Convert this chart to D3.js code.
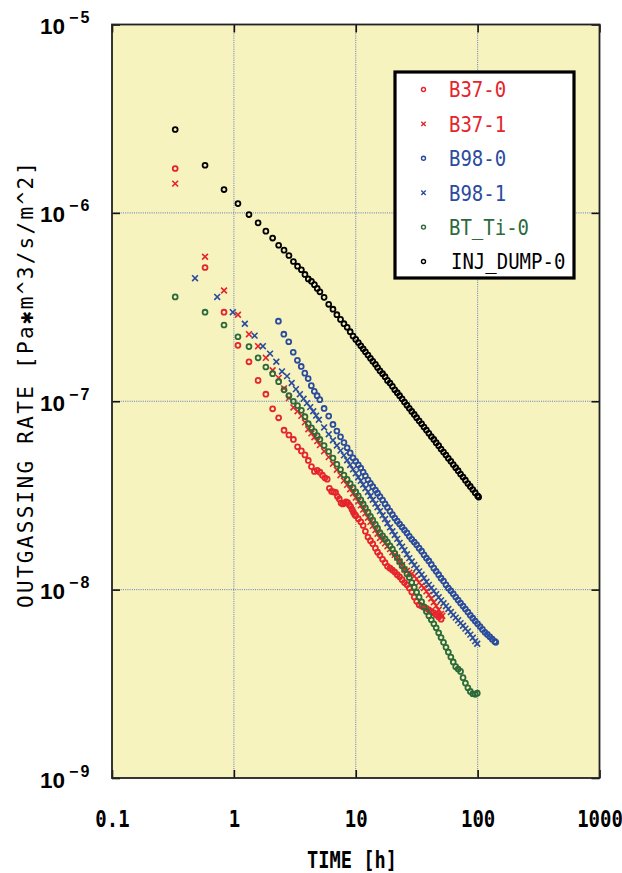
<!DOCTYPE html>
<meta charset="utf-8">
<style>
body { margin: 0; background: #fff; }
</style>
<svg width="622" height="873"></svg>
<script src="https://d3js.org/d3.v7.min.js"></script>
<script>
// ---- data: [hours, outgassing rate Pa*m^3/s/m^2] ----
var b37_0 = [[0.33,1.72e-6],[0.58,5.13e-7],[0.83,2.97e-7],[1.08,1.98e-7],[1.33,1.62e-7],[1.58,1.29e-7],[1.83,1.09e-7],[2.08,9.12e-8],[2.33,8.17e-8],[2.58,7.02e-8],[2.83,6.62e-8],[3.08,6.27e-8],[3.33,5.73e-8],[3.58,5.45e-8],[3.83,5.19e-8],[4.08,4.85e-8],[4.33,4.50e-8],[4.58,4.24e-8],[4.83,4.30e-8],[5.08,4.20e-8],[5.33,4.05e-8],[5.58,3.92e-8],[5.83,3.86e-8],[6.08,3.45e-8],[6.33,3.32e-8],[6.58,3.30e-8],[6.83,3.28e-8],[7.08,3.12e-8],[7.33,3.03e-8],[7.58,2.88e-8],[7.83,2.85e-8],[8.08,2.88e-8],[8.33,2.92e-8],[8.58,2.90e-8],[8.83,2.82e-8],[9.08,2.76e-8],[9.33,2.66e-8],[9.58,2.57e-8],[9.83,2.50e-8],
  [10,2.47e-8],[10.5,2.38e-8],[11,2.29e-8],[11.5,2.19e-8],[12,2.04e-8],[12.6,1.90e-8],[13.2,1.82e-8],[13.8,1.75e-8],[14.5,1.66e-8],[15.1,1.58e-8],[15.8,1.52e-8],[16.6,1.45e-8],[17.4,1.39e-8],[18.2,1.33e-8],[19.1,1.30e-8],[20,1.27e-8],[20.9,1.24e-8],[21.9,1.20e-8],[22.9,1.17e-8],[24,1.13e-8],[25.1,1.09e-8],[26.3,1.06e-8],[27.5,1.02e-8],[28.8,9.71e-9],[30.2,9.14e-9],[31.6,8.67e-9],[33.1,8.30e-9],[34.7,8.18e-9],[36.3,8.07e-9],[38,7.96e-9],[39.8,7.82e-9],[41.7,7.67e-9],[43.7,7.53e-9],[45.7,7.35e-9],[47.9,7.16e-9],[50.1,6.97e-9]];

var b37_1 = [[0.33,1.43e-6],[0.58,5.85e-7],[0.83,3.87e-7],[1.08,2.88e-7],[1.33,2.27e-7],[1.58,1.96e-7],[1.83,1.70e-7],[2.08,1.46e-7],[2.33,1.33e-7],[2.58,1.17e-7],[2.83,1.04e-7],[3.08,9.27e-8],[3.33,8.85e-8],[3.58,8.36e-8],[3.83,7.73e-8],[4.08,7.10e-8],[4.33,6.75e-8],[4.58,6.44e-8],[4.83,6.14e-8],[5.08,5.85e-8],[5.5,5.43e-8],[6,5.05e-8],[6.5,4.66e-8],[7,4.33e-8],[7.5,4.05e-8],[8,3.79e-8],[8.5,3.60e-8],[9,3.41e-8],[9.5,3.24e-8],
  [10,3.08e-8],[10.5,2.94e-8],[11,2.80e-8],[11.5,2.66e-8],[12,2.54e-8],[12.6,2.41e-8],[13.2,2.29e-8],[13.8,2.18e-8],[14.5,2.07e-8],[15.1,1.98e-8],[15.8,1.88e-8],[16.6,1.82e-8],[17.4,1.76e-8],[18.2,1.70e-8],[19.1,1.64e-8],[20,1.58e-8],[20.9,1.53e-8],[21.9,1.48e-8],[22.9,1.41e-8],[24,1.35e-8],[25.1,1.28e-8],[26.3,1.26e-8],[27.5,1.23e-8],[28.8,1.21e-8],[30.2,1.18e-8],[31.6,1.14e-8],[33.1,1.09e-8],[34.7,1.05e-8],[36.3,1.02e-8],[38,9.79e-9],[39.8,9.38e-9],[41.7,8.97e-9],[43.7,8.57e-9],[45.7,8.20e-9],[47.9,7.82e-9],[50.1,7.43e-9],[51.3,7.26e-9]];

var b98_0 = [[2.32,2.66e-7],[2.57,2.27e-7],[2.82,2.07e-7],[3.07,1.82e-7],[3.32,1.65e-7],[3.57,1.53e-7],[3.82,1.41e-7],[4.07,1.32e-7],[4.32,1.21e-7],[4.57,1.13e-7],[4.82,1.07e-7],[5.07,1.02e-7],[5.5,9.16e-8],[6,8.34e-8],[6.5,7.53e-8],[7,6.95e-8],[7.5,6.47e-8],[8,6.04e-8],[8.5,5.66e-8],[9,5.32e-8],[9.5,5.01e-8],
  [10,4.80e-8],[10.5,4.60e-8],[11,4.42e-8],[11.5,4.21e-8],[12,4.02e-8],[12.6,3.83e-8],[13.2,3.67e-8],[13.8,3.52e-8],[14.5,3.38e-8],[15.1,3.25e-8],[15.8,3.12e-8],[16.6,2.99e-8],[17.4,2.85e-8],[18.2,2.73e-8],[19.1,2.61e-8],[20,2.50e-8],[20.9,2.40e-8],[21.9,2.31e-8],[22.9,2.23e-8],[24,2.15e-8],[25.1,2.07e-8],[26.3,2.00e-8],[27.5,1.92e-8],[28.8,1.85e-8],[30.2,1.79e-8],[31.6,1.73e-8],[33.1,1.66e-8],[34.7,1.60e-8],[36.3,1.53e-8],[38,1.47e-8],[39.8,1.42e-8],[41.7,1.36e-8],[43.7,1.30e-8],[45.7,1.25e-8],[47.9,1.20e-8],[50.1,1.15e-8],[52.5,1.11e-8],[55,1.06e-8],[57.5,1.02e-8],[60.3,9.86e-9],[63.1,9.51e-9],[66.1,9.14e-9],[69.2,8.81e-9],[72.4,8.49e-9],[75.9,8.18e-9],[79.4,7.89e-9],[83.2,7.60e-9],[87.1,7.31e-9],[91.2,7.05e-9],[95.5,6.81e-9],[100,6.58e-9],[104.7,6.37e-9],[109.6,6.15e-9],[114.8,5.94e-9],[120.2,5.78e-9],[125.9,5.62e-9],[131.8,5.46e-9],[138,5.31e-9],[141,5.25e-9]];

var b98_1 = [[0.48,4.50e-7],[0.73,3.58e-7],[0.98,2.97e-7],[1.23,2.58e-7],[1.48,2.23e-7],[1.73,1.96e-7],[1.98,1.79e-7],[2.23,1.62e-7],[2.48,1.44e-7],[2.73,1.36e-7],[2.98,1.25e-7],[3.23,1.16e-7],[3.48,1.09e-7],[3.73,1.03e-7],[3.98,9.77e-8],[4.23,9.31e-8],[4.48,8.85e-8],[4.73,8.39e-8],[4.98,7.98e-8],[5.5,7.26e-8],[6,6.68e-8],[6.5,6.21e-8],[7,5.82e-8],[7.5,5.47e-8],[8,5.16e-8],[8.5,4.86e-8],[9,4.59e-8],[9.5,4.35e-8],
  [10,4.14e-8],[10.5,3.95e-8],[11,3.78e-8],[11.5,3.61e-8],[12,3.45e-8],[12.6,3.30e-8],[13.2,3.14e-8],[13.8,3.00e-8],[14.5,2.86e-8],[15.1,2.74e-8],[15.8,2.61e-8],[16.6,2.48e-8],[17.4,2.37e-8],[18.2,2.25e-8],[19.1,2.14e-8],[20,2.04e-8],[20.9,1.95e-8],[21.9,1.86e-8],[22.9,1.77e-8],[24,1.69e-8],[25.1,1.62e-8],[26.3,1.54e-8],[27.5,1.47e-8],[28.8,1.41e-8],[30.2,1.35e-8],[31.6,1.30e-8],[33.1,1.25e-8],[34.7,1.20e-8],[36.3,1.15e-8],[38,1.10e-8],[39.8,1.06e-8],[41.7,1.02e-8],[43.7,9.82e-9],[45.7,9.46e-9],[47.9,9.10e-9],[50.1,8.77e-9],[52.5,8.47e-9],[55,8.17e-9],[57.5,7.89e-9],[60.3,7.60e-9],[63.1,7.34e-9],[66.1,7.10e-9],[69.2,6.87e-9],[72.4,6.64e-9],[75.9,6.43e-9],[79.4,6.21e-9],[83.2,6.00e-9],[87.1,5.77e-9],[91.2,5.55e-9],[95.5,5.33e-9],[99.3,5.16e-9]];

var btTi_0 = [[0.33,3.58e-7],[0.58,2.97e-7],[0.83,2.54e-7],[1.08,2.20e-7],[1.33,1.95e-7],[1.58,1.70e-7],[1.83,1.52e-7],[2.08,1.40e-7],[2.33,1.27e-7],[2.58,1.15e-7],[2.83,1.07e-7],[3.08,1.00e-7],[3.33,9.48e-8],[3.58,8.95e-8],[3.83,8.28e-8],[4.08,7.60e-8],[4.33,7.23e-8],[4.58,6.90e-8],[4.83,6.58e-8],[5.08,6.27e-8],[5.5,5.82e-8],[6,5.41e-8],[6.5,4.99e-8],[7,4.63e-8],[7.5,4.34e-8],[8,4.06e-8],[8.5,3.85e-8],[9,3.66e-8],[9.5,3.48e-8],
  [10,3.30e-8],[10.5,3.15e-8],[11,3.00e-8],[11.5,2.85e-8],[12,2.72e-8],[12.6,2.58e-8],[13.2,2.45e-8],[13.8,2.34e-8],[14.5,2.22e-8],[15.1,2.12e-8],[15.8,2.01e-8],[16.6,1.93e-8],[17.4,1.86e-8],[18.2,1.79e-8],[19.1,1.71e-8],[20,1.64e-8],[20.9,1.56e-8],[21.9,1.48e-8],[22.9,1.41e-8],[24,1.34e-8],[25.1,1.28e-8],[26.3,1.21e-8],[27.5,1.16e-8],[28.8,1.09e-8],[30.2,1.03e-8],[31.6,9.69e-9],[33.1,9.12e-9],[34.7,8.61e-9],[36.3,8.11e-9],[38,7.66e-9],[39.8,7.26e-9],[41.7,6.92e-9],[43.7,6.59e-9],[45.7,6.27e-9],[47.9,5.90e-9],[50.1,5.57e-9],[52.5,5.25e-9],[55,4.94e-9],[57.5,4.66e-9],[60.3,4.39e-9],[63.1,4.13e-9],[66.1,3.90e-9],[69.2,3.79e-9],[72.4,3.68e-9],[75.9,3.41e-9],[79.4,3.19e-9],[83.2,3.01e-9],[87.1,2.88e-9],[91.2,2.80e-9],[95.5,2.78e-9],[99.3,2.82e-9]];

var injDump_0 = [[0.33,2.77e-6],[0.58,1.79e-6],[0.83,1.33e-6],[1.08,1.12e-6],[1.33,9.8e-7],[1.58,8.85e-7],[1.83,8.0e-7],[2.08,7.35e-7],[2.33,6.73e-7],[2.58,6.34e-7],[2.83,5.94e-7],[3.08,5.52e-7],[3.33,5.21e-7],[3.58,4.99e-7],[3.83,4.71e-7],[4.08,4.46e-7],[4.33,4.33e-7],[4.58,4.16e-7],[4.83,3.97e-7],[5.08,3.81e-7],[5.5,3.56e-7],[6,3.27e-7],[6.5,3.08e-7],[7,2.88e-7],[7.5,2.72e-7],[8,2.58e-7],[8.5,2.47e-7],[9,2.34e-7],[9.5,2.22e-7],
  [10,2.13e-7],[10.5,2.05e-7],[11,1.97e-7],[11.5,1.90e-7],[12,1.83e-7],[12.6,1.76e-7],[13.2,1.69e-7],[13.8,1.63e-7],[14.5,1.57e-7],[15.1,1.51e-7],[15.8,1.45e-7],[16.6,1.40e-7],[17.4,1.35e-7],[18.2,1.29e-7],[19.1,1.25e-7],[20,1.20e-7],[20.9,1.15e-7],[21.9,1.11e-7],[22.9,1.07e-7],[24,1.03e-7],[25.1,9.91e-8],[26.3,9.53e-8],[27.5,9.18e-8],[28.8,8.83e-8],[30.2,8.51e-8],[31.6,8.18e-8],[33.1,7.87e-8],[34.7,7.59e-8],[36.3,7.30e-8],[38,7.03e-8],[39.8,6.76e-8],[41.7,6.50e-8],[43.7,6.27e-8],[45.7,6.03e-8],[47.9,5.81e-8],[50.1,5.58e-8],[52.5,5.37e-8],[55,5.18e-8],[57.5,4.98e-8],[60.3,4.80e-8],[63.1,4.61e-8],[66.1,4.44e-8],[69.2,4.28e-8],[72.4,4.11e-8],[75.9,3.96e-8],[79.4,3.81e-8],[83.2,3.66e-8],[87.1,3.53e-8],[91.2,3.40e-8],[95.5,3.27e-8],[100,3.15e-8],[102,3.10e-8]];

var seriesNames = ["B37-0", "B37-1", "B98-0", "B98-1", "BT_Ti-0", "INJ_DUMP-0"];
var xTicks = [0.1, 1, 10, 100, 1000];
var xTickLabels = ["0.1", "1", "10", "100", "1000"];
var yTicks = [1e-9, 1e-8, 1e-7, 1e-6, 1e-5];
var yTickExps = ["-9", "-8", "-7", "-6", "-5"];

// ---- setup ----
var svg = d3.select("svg");
var plotL = 112, plotR = 599.5, plotT = 24.5, plotB = 778;
var x = d3.scaleLog().domain([0.1, 1000]).range([plotL, plotR]);
var y = d3.scaleLog().domain([1e-9, 1e-5]).range([plotB, plotT]);

var red = "#e5242c", blue = "#2b4c9e", green = "#2c6a3b", black = "#000";
var series = [
  {name: seriesNames[0], data: b37_0, color: red, shape: "circle"},
  {name: seriesNames[1], data: b37_1, color: red, shape: "cross"},
  {name: seriesNames[2], data: b98_0, color: blue, shape: "circle"},
  {name: seriesNames[3], data: b98_1, color: blue, shape: "cross"},
  {name: seriesNames[4], data: btTi_0, color: green, shape: "circle"},
  {name: seriesNames[5], data: injDump_0, color: black, shape: "circle"}
];

// plot background
svg.append("rect")
  .attr("x", plotL).attr("y", plotT)
  .attr("width", plotR - plotL).attr("height", plotB - plotT)
  .attr("fill", "#f6f3be");

// grid lines (dotted)
var grid = svg.append("g").attr("stroke", "#6479bd").attr("stroke-width", 1).attr("stroke-dasharray", "1,1.2");
grid.selectAll(".gx").data(xTicks.slice(1, -1)).enter().append("line")
  .attr("x1", function(d) { return x(d); }).attr("x2", function(d) { return x(d); })
  .attr("y1", plotT).attr("y2", plotB);
grid.selectAll(".gy").data(yTicks.slice(1, -1)).enter().append("line")
  .attr("y1", function(d) { return y(d); }).attr("y2", function(d) { return y(d); })
  .attr("x1", plotL).attr("x2", plotR);

// axes with inward ticks
var gxB = svg.append("g").attr("transform", "translate(0," + plotB + ")")
  .call(d3.axisBottom(x).tickValues(xTicks).tickSize(-8).tickSizeOuter(0)
    .tickFormat(function(d, i) { return xTickLabels[i]; }));
var gxT = svg.append("g").attr("transform", "translate(0," + plotT + ")")
  .call(d3.axisTop(x).tickValues(xTicks).tickSize(-8).tickSizeOuter(0).tickFormat(""));
var gyL = svg.append("g").attr("transform", "translate(" + plotL + ",0)")
  .call(d3.axisLeft(y).tickValues(yTicks).tickSize(-8).tickSizeOuter(0).tickFormat(""));
var gyR = svg.append("g").attr("transform", "translate(" + plotR + ",0)")
  .call(d3.axisRight(y).tickValues(yTicks).tickSize(-8).tickSizeOuter(0).tickFormat(""));
[gxB, gxT, gyL, gyR].forEach(function(g) {
  g.select(".domain").remove();
  g.selectAll(".tick line").attr("stroke", "#111").attr("stroke-width", 1.6);
});

gxB.selectAll(".tick text")
  .attr("y", 0).attr("dy", null)
  .attr("transform", "translate(0,49) scale(1,1.22)")
  .attr("fill", "#000")
  .style("font-family", "'DejaVu Sans Mono', monospace")
  .style("font-weight", "bold")
  .style("font-size", "19px");

// y tick labels 10^n
gyL.selectAll(".tick").each(function(d, i) {
  var t = d3.select(this).append("text")
    .attr("x", -72).attr("y", 9)
    .attr("text-anchor", "start")
    .attr("fill", "#000")
    .style("font-family", "'Liberation Sans', Arial, sans-serif")
    .style("font-weight", "bold");
  t.append("tspan").style("font-size", "22.5px").text("10");
  t.append("tspan").attr("dx", 4).attr("dy", -11).style("font-size", "16px")
    .style("letter-spacing", "2px").text(yTickExps[i].replace("-", "\u2212"));
});

// frame
svg.append("rect")
  .attr("x", plotL).attr("y", plotT)
  .attr("width", plotR - plotL).attr("height", plotB - plotT)
  .attr("fill", "none").attr("stroke", "#222").attr("stroke-width", 1.8);

// axis titles
svg.append("text")
  .attr("transform", "translate(352,868) scale(1,1.22)")
  .attr("text-anchor", "middle")
  .style("font-family", "'DejaVu Sans Mono', monospace")
  .style("font-weight", "bold")
  .style("font-size", "18.7px")
  .text("TIME [h]");

svg.append("text")
  .attr("transform", "translate(33,385) rotate(-90)")
  .attr("text-anchor", "middle")
  .attr("textLength", 446).attr("lengthAdjust", "spacing")
  .style("font-family", "'DejaVu Sans Mono', monospace")
  .style("font-size", "21px")
  .text("OUTGASSING RATE [Pa\u2731m^3/s/m^2]");

// markers
function drawMarker(sel, shape, color, r, sw) {
  if (shape === "circle") {
    sel.append("circle").attr("r", r).attr("fill", "none")
      .attr("stroke", color).attr("stroke-width", sw);
  } else {
    sel.append("path")
      .attr("d", "M" + (-r) + "," + (-r) + "L" + r + "," + r + "M" + (-r) + "," + r + "L" + r + "," + (-r))
      .attr("stroke", color).attr("stroke-width", sw).attr("fill", "none");
  }
}

series.forEach(function(s) {
  var g = svg.append("g");
  g.selectAll("g").data(s.data).enter().append("g")
    .attr("transform", function(d) { return "translate(" + x(d[0]) + "," + y(d[1]) + ")"; })
    .each(function() {
      if (s.shape === "circle") drawMarker(d3.select(this), "circle", s.color, 2.45, 1.8);
      else drawMarker(d3.select(this), "cross", s.color, 2.9, 1.6);
    });
});

// legend
var lg = svg.append("g");
lg.append("rect")
  .attr("x", 395).attr("y", 72).attr("width", 179).attr("height", 206)
  .attr("fill", "#fff").attr("stroke", "#000").attr("stroke-width", 3.2);
series.forEach(function(s, i) {
  var cy = 89.5 + i * 34.4;
  var m = lg.append("g").attr("transform", "translate(423.5," + cy + ")");
  drawMarker(m, s.shape, s.color, s.shape === "circle" ? 2 : 2.2, 1.4);
  lg.append("text")
    .attr("transform", "translate(" + (s.name === "INJ_DUMP-0" ? 451 : 449) + "," + (cy + 7.8) + ") scale(1,1.14)")
    .attr("fill", s.color)
    .style("font-family", "'DejaVu Sans Mono', monospace")
    .style("font-size", "19px")
    .text(s.name);
});
</script>
